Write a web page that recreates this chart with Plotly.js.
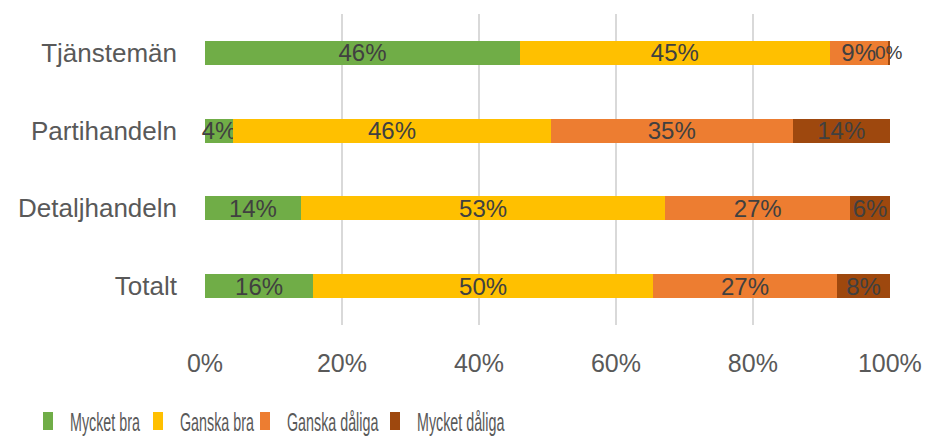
<!DOCTYPE html>
<html>
<head>
<meta charset="utf-8">
<script src="https://cdn.plot.ly/plotly-3.0.1.min.js"></script>
<style>html,body{margin:0;padding:0;background:#fff;}#chart{width:925px;height:436px;}</style>
</head>
<body>
<div id="chart"></div>
<script>
const categories = ['Totalt', 'Detaljhandeln', 'Partihandeln', 'Tjänstemän'];
const seriesNames = ['Mycket bra', 'Ganska bra', 'Ganska dåliga', 'Mycket dåliga'];
const mycketBra = [15.8, 14.0, 4.1, 46.0];
const ganskaBra = [49.6, 53.2, 46.4, 45.2];
const ganskaDaliga = [26.9, 27.0, 35.3, 8.5];
const mycketDaliga = [7.7, 5.8, 14.2, 0.3];
const colors = ['#70AD47', '#FFC000', '#ED7D31', '#9E480E'];
const tickVals = [0, 20, 40, 60, 80, 100];

const FONT = 'Liberation Sans, Arial, sans-serif';
const series = [mycketBra, ganskaBra, ganskaDaliga, mycketDaliga];
const traces = series.map((vals, i) => ({
  type: 'bar',
  orientation: 'h',
  name: seriesNames[i],
  y: categories,
  x: vals,
  marker: {color: colors[i], line: {width: 0}},
  texttemplate: '%{x:.0f}%',
  textposition: 'inside',
  insidetextanchor: 'middle',
  constraintext: 'none',
  textangle: 0,
  insidetextfont: {family: FONT, size: vals.map(v => v < 1 ? 19 : 24), color: '#404040'},
  hoverinfo: 'skip',
  cliponaxis: false
}));

const layout = {
  width: 925, height: 436,
  margin: {l: 205, r: 35, t: 14, b: 111},
  barmode: 'stack',
  bargap: 0.69,
  paper_bgcolor: '#fff', plot_bgcolor: '#fff',
  font: {family: FONT, color: '#595959', size: 24},
  xaxis: {
    range: [0, 100.02], tickvals: tickVals, ticktext: tickVals.map(v => v + '%'),
    showgrid: true, gridcolor: '#D9D9D9', gridwidth: 2, zeroline: false,
    showline: false, ticks: '', tickfont: {family: FONT, size: 25, color: '#595959'},
    ticklabelstandoff: 21,
    fixedrange: true
  },
  yaxis: {
    showgrid: false, zeroline: false, showline: false, ticks: '', ticklen: 0,
    tickfont: {family: FONT, size: 26, color: '#595959'}, ticklabelstandoff: 27,
    fixedrange: true
  },
  showlegend: true,
  legend: {
    orientation: 'h', xref: 'container', yref: 'container',
    x: 0.02, xanchor: 'left', y: 0.035, yanchor: 'middle',
    bgcolor: 'rgba(0,0,0,0)',
    font: {family: FONT, size: 26, color: '#595959'}, traceorder: 'normal',
    itemwidth: 30
  }
};

// Legend entry placement as in the reference (condensed legend row).
const legendSquareLeft = [43, 153, 260, 390];
const legendCenterY = 421;
const legendSqueeze = 0.55;

Plotly.newPlot('chart', traces, layout, {displayModeBar: false, staticPlot: true}).then(gd => {
  const leg = gd.querySelector('g.legend');
  if (!leg) return;
  leg.removeAttribute('clip-path');
  leg.querySelectorAll('[clip-path]').forEach(el => el.removeAttribute('clip-path'));
  const entries = leg.querySelectorAll('g.traces');
  entries.forEach((g, i) => {
    const p = g.querySelector('.legendpoints path');
    if (p) p.setAttribute('transform', 'scale(' + (10 / (12 * legendSqueeze)) + ',1.5)');
    g.setAttribute('transform', 'translate(0,0) scale(' + legendSqueeze + ',1)');
    const r = p.getBoundingClientRect();
    const dx = legendSquareLeft[i] - r.left;
    const dy = legendCenterY - (r.top + r.bottom) / 2;
    g.setAttribute('transform', 'translate(' + dx + ',' + dy + ') scale(' + legendSqueeze + ',1)');
  });
});
</script>
</body>
</html>
